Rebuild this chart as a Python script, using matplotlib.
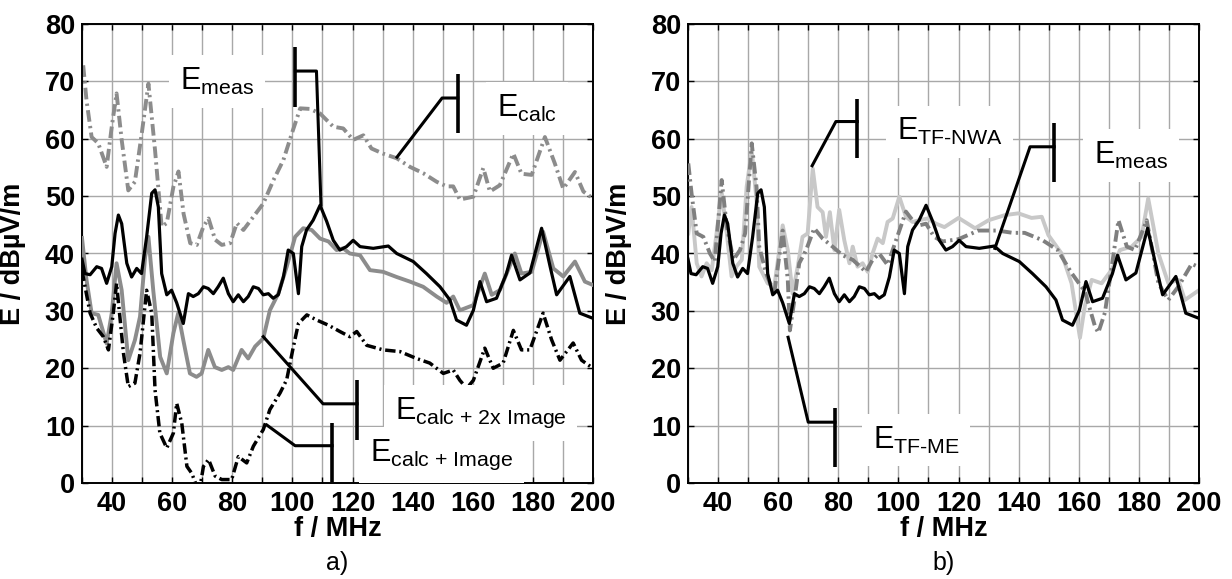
import matplotlib
matplotlib.use("Agg")
import matplotlib.pyplot as plt
from matplotlib.ticker import MultipleLocator

plt.rcParams['font.family'] = ['Liberation Sans', 'DejaVu Sans']
plt.rcParams['mathtext.fontset'] = 'custom'
plt.rcParams['mathtext.rm'] = 'Liberation Sans'
plt.rcParams['mathtext.it'] = 'Liberation Sans:italic'
plt.rcParams['mathtext.bf'] = 'Liberation Sans:bold'

# ---------------- data ----------------
f_meas = [30, 31, 32.7, 34.9, 36.5, 38.2, 39.9, 41, 42.1, 43.2, 44.9, 46.5, 48.2, 49.8, 51.5,
          53.2, 54.3, 55.4, 56.5, 58.2, 59.8, 61.5, 63.7, 65.4, 67, 68.7, 70.4, 72, 73.7,
          75.3, 77, 78.7, 80.3, 82, 83.7, 85.3, 87, 88.7, 90.3, 92, 93.6, 95.3, 97, 98.6,
          100.3, 102, 103.1, 104.7, 106.9, 109.2, 111.4, 113.6, 115.8, 118, 120.2, 122.5,
          126.9, 131.9, 134.7, 140.2, 144.6, 149.1, 152.4, 154.6, 157.9, 160.2, 162.4,
          164.6, 167.9, 171.2, 172.9, 175.7, 179, 182.9, 185.7, 187.9, 192.3, 195.6, 200]
E_meas = [39, 36.5, 36.3, 37.7, 37.4, 34.8, 37.7, 43.5, 46.7, 45.2, 38.3, 35.9, 37.4, 36.5, 42.9,
          50.5, 51.1, 48.1, 36.5, 32.8, 33.6, 31.4, 27.8, 33, 32.5, 33, 34.2, 33.9, 33,
          34.2, 35.7, 33, 31.6, 32.8, 31.6, 32.5, 34.2, 33.9, 32.8, 33, 32.2, 32.8, 35.9, 40.6,
          40, 33, 41.2, 44.1, 45.8, 48.4, 45.6, 42.3, 40.6, 41.2, 42.3, 41.2,
          40.9, 41.3, 40, 38.6, 36.5, 34.2, 31.9, 28.4, 27.5, 30.1, 35.1,
          31.6, 32.2, 36.5, 39.7, 35.4, 36.6, 44.4, 37.8, 32.8, 36, 29.6, 28.7]

f_calc = [30.4, 31.5, 33.2, 35.4, 38.2, 39.9, 41.5, 43.2, 45.4, 47.6, 49.9, 52.1, 54.3, 56.5,
          58.2, 60.4, 62.1, 63.8, 66, 68.2, 70.4, 72.1, 74.3, 76.5, 79.3, 81.5, 83.7, 87,
          90.3, 93.7, 97, 99.8, 102.6, 105.8, 109.2, 113.6, 116.9, 120.2, 123.6, 126.3,
          130.2, 134.7, 139.1, 143.5, 148, 151.3, 153.5, 155.7, 160.2, 163.5, 165.7, 169,
          173.5, 176.2, 179.6, 184, 187.3, 190.1, 194, 196.8, 200]
E_calc = [72.8, 66.7, 60.3, 59.2, 55.1, 62.1, 67.9, 59.8, 51, 52.5, 61, 69.6, 58, 44.7,
          45.3, 51.6, 54.3, 46.9, 41.8, 41.5, 44.7, 46.1, 42.4, 41.5, 41.8, 45.3, 44.1, 46.4,
          48.7, 52.8, 56.3, 60.9, 65.3, 65.2, 64.4, 62.1, 61.8, 59.8, 60.6, 58.3,
          57.4, 56.6, 55.1, 54, 52.5, 51.7, 51.7, 49.4, 49.9, 54.9, 50.8, 51.9,
          57.4, 53.9, 53.7, 60.3, 55.7, 51.3, 54.2, 50.8, 49.6]

f_img2 = [30, 31.5, 33.2, 35.4, 38.2, 39.9, 41.5, 43.2, 45.4, 47.6, 49.3, 51, 52.1, 53.7, 56,
          58.2, 60.4, 62, 63.7, 65.9, 68.1, 69.8, 72, 74.2, 76.5, 78.7, 80.3, 83.1, 85.3,
          87.6, 90.3, 92.5, 95.3, 98.1, 100.9, 103.6, 106.4, 109.2, 112, 114.7, 116.9,
          119.1, 122.5, 125.8, 130.2, 134.7, 139.1, 143.5, 148, 151.3, 153.5, 155.7,
          160.2, 164, 166.3, 169, 174, 176.2, 179.6, 183.4, 186.8, 190.1, 194, 197.3, 200]
E_img2 = [42.7, 35.4, 29.6, 29.3, 24.3, 29.6, 38.3, 33.6, 21.4, 24.9, 29, 39.4, 42.9, 33.6, 22,
          19.1, 26.1, 29.6, 24.9, 19.1, 18.5, 19.1, 23.2, 20.2, 19.7, 20.2, 19.7, 23.2, 21.7,
          23.8, 25.2, 30.1, 33, 37.7, 42.9, 44.4, 44.1, 42.6, 42.1, 40.6, 40.9,
          40, 39.7, 37.1, 36.8, 35.9, 35.1, 34.2, 32.5, 31.4, 32.5, 30.1,
          31, 36.5, 32.8, 33.6, 40, 36.5, 36.8, 43.8, 37.4, 36, 38.6, 35.1, 34.5]

f_img1 = [30, 32.7, 34.9, 37.1, 38.8, 40.4, 41.5, 43.8, 45.4, 47.6, 49.3, 51.5, 53.2, 54.3,
          55.9, 58.2, 60.4, 61.5, 63.2, 64.9, 66.5, 68.2, 69.3, 70.4, 72.1, 74.3, 76.5,
          79.8, 82, 84.8, 87, 90.3, 92.5, 95.9, 98.1, 100.3, 102, 104.8, 108.1, 112,
          115.8, 119.1, 121.4, 124.7, 130.2, 135.8, 141.3, 145.7, 150.2, 153.5, 155.7,
          158, 160.2, 164, 166.8, 170.1, 173.5, 176.2, 179, 183.4, 186.2, 189, 193.4,
          196.2, 200]
E_img1 = [37, 29.6, 27, 25.5, 23.2, 29.6, 34.8, 22.6, 16.8, 17.4, 22.6, 33.6, 29.6, 16.2,
          8.7, 6.1, 8.7, 13.9, 10.4, 2.9, 1.7, -0.6, -0.6, 2.9, 4.1, 1.2, 0.6,
          0.6, 4.6, 3.5, 6.4, 9.3, 12.8, 15.7, 18, 23.7, 27.8, 29.3, 28.4, 27.5,
          26.4, 25.5, 26.4, 24, 23.2, 22.9, 21.7, 20.9, 19.1, 19.7, 17.9,
          16.5, 17.9, 23.5, 20, 20.9, 26.6, 23.2, 23.2, 29.6, 25, 21.4, 24.4,
          21.4, 20]

f_nwa = [30.1, 31.2, 32.9, 34.5, 36.2, 37.9, 39.5, 41.2, 42.9, 44.5, 46.2, 47.9, 49.5, 51.2,
         52.8, 53.7, 56.5, 58.7, 61.5, 63.2, 64.8, 66.5, 68.1, 69.8, 71.5, 73.1, 74.8,
         75.9, 77.2, 78.7, 80.3, 82, 83.7, 84.8, 86.4, 88.1, 89.8, 91.4, 93.1, 94.8,
         96.4, 98.1, 100.3, 102.5, 104.7, 106.9, 109.7, 112.5, 115.3, 120, 125.5, 130,
         135.5, 139.9, 144.3, 147.7, 149.9, 154.3, 157.6, 160.4, 162, 164.3, 167.6, 171,
         173.7, 177.6, 180.9, 183.1, 186.5, 189.8, 193.1, 195.3, 200]
E_nwa = [43.5, 48.1, 38.3, 36, 38.3, 37.1, 43.5, 50.7, 43.5, 36, 37.8, 38.9, 51.6, 58,
         49.3, 37.7, 34.8, 34.2, 44.9, 40.6, 33, 37.7, 42.9, 43.5, 54.8, 48.1, 47.2,
         42.9, 47.2, 40.6, 47.6, 42.3, 38.3, 41.2, 37.7, 38.3, 36.8, 40, 42.6, 41.8,
         45.5, 46.1, 49.9, 46.4, 45.5, 45.8, 46.1, 45.2, 44.6, 46.2, 44.4, 45.8,
         46.7, 47, 46.2, 46.4, 43.2, 40, 34.8, 25.3, 30.8, 35.4, 34.8, 37.2,
         40.6, 41.2, 42.9, 49.6, 40, 34.8, 35.4, 31.9, 33.6]

f_me = [30.1, 31.2, 32.9, 35.1, 37.3, 38.9, 41.2, 42.9, 45.1, 47.3, 49, 51.2, 52.8, 53.7,
        56, 58.7, 61.5, 63.2, 63.9, 65.4, 67, 69.3, 72, 74.8, 78.1, 81.4, 84.8, 89.2,
        91.4, 93.6, 96.4, 99.2, 102.5, 104.7, 106.9, 109.2, 111.9, 114.7, 120, 126.6,
        133, 138, 142, 148, 153, 157.6, 162, 165.4, 166.5, 168.7, 171, 173.2, 176,
        178.7, 182.6, 186.5, 189.8, 193.1, 197.6, 200]
E_me = [55.7, 50.4, 43.5, 42.9, 40, 38.6, 52.8, 44.7, 38.9, 40.6, 43.5, 59.2, 51.6, 41.2,
        36.5, 33, 44, 35.4, 26.6, 31.9, 38.3, 40.6, 44.4, 42.6, 41.2, 39.7, 38.9, 36.8,
        38.9, 40, 38, 42.3, 47.3, 45.8, 44.9, 45.2, 42.9, 42.1, 42.5, 44,
        44, 43.6, 43.6, 42.3, 40.6, 36.6, 33.4, 27.3, 26.2, 29.7, 37.8, 45.8, 41.2,
        40.6, 45.8, 34.8, 31.9, 34.2, 38.2, 37.6]

x_ticks = [40, 60, 80, 100, 120, 140, 160, 180, 200]
y_ticks = [0, 10, 20, 30, 40, 50, 60, 70, 80]

# ---------------- figure ----------------
fig = plt.figure(figsize=(12.32, 5.79), dpi=100)
axL = fig.add_axes([82 / 1232, 96 / 579, 511 / 1232, 459 / 579])
axR = fig.add_axes([688 / 1232, 96 / 579, 511 / 1232, 459 / 579])

TICK_FS = 19.5
ANN_FS = 22

def style(ax, letter):
    ax.set_xlim(30, 200)
    ax.set_ylim(0, 80)
    ax.set_xticks(x_ticks)
    ax.set_yticks(y_ticks)
    ax.xaxis.set_minor_locator(MultipleLocator(10))
    ax.grid(True, which='both', color='#a8a8a8', lw=1.0, zorder=0)
    ax.set_axisbelow(True)
    ax.tick_params(which='both', direction='in', top=True, right=True, length=4,
                   width=1, labelsize=TICK_FS)
    ax.tick_params(axis='x', pad=6)
    ax.tick_params(axis='y', pad=5)
    for lab in ax.get_xticklabels() + ax.get_yticklabels():
        lab.set_fontweight('bold')
    for sp in ax.spines.values():
        sp.set_linewidth(1.4)
    ax.set_xlabel('f / MHz', fontsize=TICK_FS, fontweight='bold')
    ax.xaxis.set_label_coords(0.5, -0.072)
    ax.set_ylabel('E / dBµV/m', fontsize=TICK_FS, fontweight='bold')
    ax.yaxis.set_label_coords(-0.11, 0.5)
    ax.text(0.5, -0.174, letter, transform=ax.transAxes, ha='center', va='center',
            fontsize=18)

style(axL, 'a)')
style(axR, 'b)')

DASHDOT = (0, (3, 1.1, 0.6, 1.1))

# left panel curves
axL.plot(f_calc, E_calc, color='#8c8c8c', lw=2.8, ls=DASHDOT, zorder=2)
axL.plot(f_img2, E_img2, color='#8c8c8c', lw=2.8, zorder=3)
axL.plot(f_img1, E_img1, color='black', lw=2.5, ls=DASHDOT, zorder=4)
axL.plot(f_meas, E_meas, color='black', lw=2.3, zorder=5)

# right panel curves
axR.plot(f_nwa, E_nwa, color='#c8c8c8', lw=2.8, zorder=2)
axR.plot(f_me, E_me, color='#7f7f7f', lw=2.8, ls=DASHDOT, zorder=3)
axR.plot(f_meas, E_meas, color='black', lw=2.3, zorder=4)

# ---------------- callouts ----------------
box = dict(facecolor='white', edgecolor='none', boxstyle='square,pad=0.35')

def callout(ax, label, tx, ty, bar_x, bar_y0, bar_y1, path):
    ax.text(tx, ty, label, fontsize=ANN_FS, ha='left', va='center', bbox=box, zorder=6)
    ax.plot([bar_x, bar_x], [bar_y0, bar_y1], color='black', lw=2.6, zorder=7,
            solid_capstyle='butt')
    xs = [p[0] for p in path]
    ys = [p[1] for p in path]
    ax.plot(xs, ys, color='black', lw=2.2, zorder=7)

callout(axL, r'$\mathrm{E}_{\mathrm{meas}}$', 62.6, 70.0, 101, 65.5, 76,
        [(101, 71.8), (108, 71.8), (109.5, 48.5)])
callout(axL, r'$\mathrm{E}_{\mathrm{calc}}$', 168, 65.3, 155, 61, 71.3,
        [(155, 67.1), (149.8, 67.1), (134.8, 56.8)])
callout(axL, r'$\mathrm{E}_{\text{calc + 2x Image}}$', 134.1, 12.2, 121.5, 7.5, 18,
        [(121.5, 13.8), (110.2, 13.8), (90.3, 25.5)])
callout(axL, r'$\mathrm{E}_{\text{calc + Image}}$', 125.8, 4.9, 113.2, 0.2, 10.4,
        [(113.2, 6.5), (100.9, 6.5), (91.5, 10.1)])

callout(axR, r'$\mathrm{E}_{\text{TF-NWA}}$', 99.5, 61.2, 86.3, 56.7, 67,
        [(86.3, 63), (79.2, 63), (71.3, 55.3)])
callout(axR, r'$\mathrm{E}_{\mathrm{meas}}$', 165, 57.1, 151.8, 52.4, 62.7,
        [(151.8, 58.6), (143.8, 58.6), (132.1, 40.9)])
callout(axR, r'$\mathrm{E}_{\text{TF-ME}}$', 91.5, 7.5, 78.9, 2.8, 13,
        [(78.9, 10.6), (70, 10.6), (63.3, 25.4)])

fig.savefig('out.png', dpi=100)
